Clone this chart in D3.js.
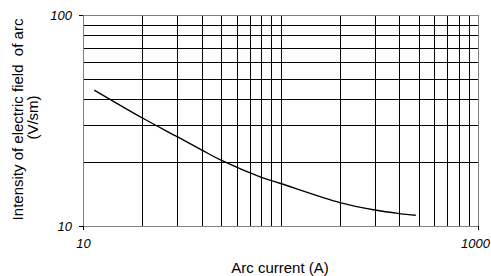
<!DOCTYPE html>
<meta charset="utf-8">
<script src="https://d3js.org/d3.v7.min.js"></script>
<style>
body { margin: 0; background: #fff; }
svg { font-family: Arial, "Liberation Sans", sans-serif; }
.grid line { stroke: #000; stroke-width: 1px; shape-rendering: crispEdges; }
.frame { fill: none; stroke: #808080; stroke-width: 1px; shape-rendering: crispEdges; }
.tick-label { font-size: 13px; font-style: italic; fill: #000; }
.title { font-size: 15px; fill: #000; }
</style>
<body></body>
<script>
// arc current (A) and field intensity (V/sm)
var current = [11.4, 20, 30, 40, 50, 80, 100, 200, 300, 400, 484];
var field = [44.1, 32.5, 26.5, 22.9, 20.5, 17.0, 15.9, 12.9, 11.9, 11.45, 11.24];

var xTickLabels = [10, 1000];
var yTickLabels = [10, 100];

var W = 491, H = 276;
var margin = {top: 15, right: 13, bottom: 50, left: 83};
var width = W - margin.left - margin.right,
    height = H - margin.top - margin.bottom;

var svg = d3.select("body").append("svg")
    .attr("width", W)
    .attr("height", H);

var g = svg.append("g")
    .attr("transform", "translate(" + margin.left + "," + margin.top + ")");

var x = d3.scaleLog().domain([10, 1000]).range([0, width]);
var y = d3.scaleLog().domain([10, 100]).range([height, 0]);

// minor + major grid values
var xGrid = x.ticks().filter(function(v) { return v > 10 && v < 1000; });
var yGrid = y.ticks().filter(function(v) { return v > 10 && v < 100; });

var grid = g.append("g").attr("class", "grid");
grid.selectAll(".vx").data(xGrid).enter().append("line")
    .attr("x1", function(d) { return Math.round(x(d)) + 0.5; })
    .attr("x2", function(d) { return Math.round(x(d)) + 0.5; })
    .attr("y1", 0).attr("y2", height);
grid.selectAll(".hy").data(yGrid).enter().append("line")
    .attr("y1", function(d) { return Math.round(y(d)) + 0.5; })
    .attr("y2", function(d) { return Math.round(y(d)) + 0.5; })
    .attr("x1", 0).attr("x2", width);

g.append("rect").attr("class", "frame")
    .attr("x", 0.5).attr("y", 0.5)
    .attr("width", width).attr("height", height);

// small tick marks
g.selectAll(".yt").data(yTickLabels).enter().append("line")
    .attr("x1", -4).attr("x2", 0)
    .attr("y1", function(d) { return Math.round(y(d)) + 0.5; })
    .attr("y2", function(d) { return Math.round(y(d)) + 0.5; })
    .attr("stroke", "#000");
g.selectAll(".xt").data(xTickLabels).enter().append("line")
    .attr("x1", function(d) { return Math.round(x(d)) + 0.5; })
    .attr("x2", function(d) { return Math.round(x(d)) + 0.5; })
    .attr("y1", height).attr("y2", height + 4)
    .attr("stroke", "#000");

g.selectAll(".ylab").data(yTickLabels).enter().append("text")
    .attr("class", "tick-label")
    .attr("x", -11)
    .attr("y", function(d) { return y(d); })
    .attr("dy", "0.35em")
    .attr("text-anchor", "end")
    .text(function(d) { return d; });

// last label sits flush with the right edge, as in the original
g.selectAll(".xlab").data(xTickLabels).enter().append("text")
    .attr("class", "tick-label")
    .attr("x", function(d, i) { return i === 0 ? x(d) + 0.5 : W - margin.left - 1; })
    .attr("y", height + 22)
    .attr("text-anchor", function(d, i) { return i === 0 ? "middle" : "end"; })
    .text(function(d) { return d; });

var line = d3.line()
    .x(function(d, i) { return x(current[i]); })
    .y(function(d, i) { return y(field[i]); })
    .curve(d3.curveCatmullRom.alpha(0.5));

g.append("path")
    .datum(current)
    .attr("d", line)
    .attr("fill", "none")
    .attr("stroke", "#000")
    .attr("stroke-width", 1.4);

svg.append("text")
    .attr("class", "title")
    .attr("x", 280).attr("y", 273)
    .attr("text-anchor", "middle")
    .text("Arc current (A)");

svg.append("text")
    .attr("class", "title")
    .attr("transform", "translate(23,119.5) rotate(-90)")
    .attr("text-anchor", "middle")
    .text("Intensity of electric field\u00a0 of arc");
svg.append("text")
    .attr("class", "title")
    .attr("transform", "translate(37.5,117.5) rotate(-90)")
    .attr("text-anchor", "middle")
    .text("(V/sm)");
</script>
